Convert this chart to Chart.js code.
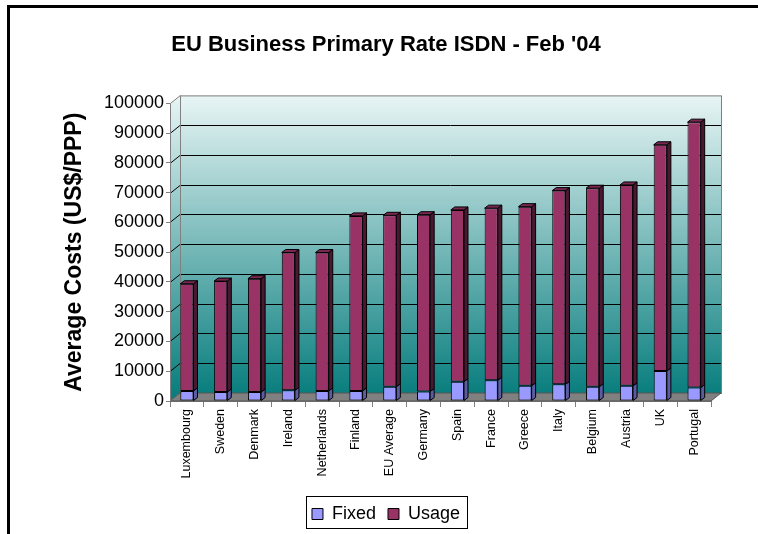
<!DOCTYPE html>
<html>
<head>
<meta charset="utf-8">
<script src="https://cdn.jsdelivr.net/npm/chart.js@4.4.0/dist/chart.umd.min.js"></script>
<style>
  html, body { margin: 0; padding: 0; background: #fff; }
</style>
</head>
<body>
<canvas id="isdnChart" width="758" height="534"></canvas>
<script>
const countries = ['Luxembourg', 'Sweden', 'Denmark', 'Ireland', 'Netherlands', 'Finland', 'EU Average',
  'Germany', 'Spain', 'France', 'Greece', 'Italy', 'Belgium', 'Austria', 'UK', 'Portugal'];
// values (US$/PPP)
const fixedCosts = [3400, 3000, 3000, 3600, 3400, 3400, 4800, 3200, 6500, 7000, 5100, 5600, 4800, 5100, 10100, 4500];
const usageCosts = [36000, 37300, 38100, 46300, 46500, 58800, 57600, 59400, 57700, 57800, 60200, 65100, 66700, 67500, 76000, 89200];
const yTicks = [0, 10000, 20000, 30000, 40000, 50000, 60000, 70000, 80000, 90000, 100000];

const FONT = '"Liberation Sans", Arial, sans-serif';
const DX = 10, DY = 8;   // depth of back wall
const BDX = 4, BDY = 3;  // depth of each column

function poly(ctx, pts) {
  ctx.beginPath();
  ctx.moveTo(pts[0][0], pts[0][1]);
  for (let i = 1; i < pts.length; i++) ctx.lineTo(pts[i][0], pts[i][1]);
  ctx.closePath();
}

// walls, floor and gridlines behind the columns
const wallPlugin = {
  id: 'wall3d',
  beforeDatasetsDraw(chart) {
    const { ctx, chartArea: a, scales: { y } } = chart;
    const grad = ctx.createLinearGradient(0, a.top - DY, 0, a.bottom - DY);
    grad.addColorStop(0, '#e8f5f5');
    grad.addColorStop(1, '#0a7e7e');
    ctx.save();
    ctx.fillStyle = grad;
    poly(ctx, [[a.left, a.top], [a.left + DX, a.top - DY], [a.left + DX, a.bottom - DY], [a.left, a.bottom]]);
    ctx.fill();
    ctx.fillRect(a.left + DX, a.top - DY, a.right - a.left, a.bottom - a.top);

    ctx.lineWidth = 1;
    ctx.strokeStyle = '#000';
    yTicks.slice(1, -1).forEach(v => {
      const py = Math.round(y.getPixelForValue(v)) + 0.5;
      ctx.beginPath();
      ctx.moveTo(a.left, py);
      ctx.lineTo(a.left + DX, py - DY);
      ctx.lineTo(a.right + DX, py - DY);
      ctx.stroke();
    });

    // wall outlines
    ctx.strokeStyle = '#808080';
    ctx.strokeRect(a.left + DX + 0.5, a.top - DY + 0.5, a.right - a.left, a.bottom - a.top);
    ctx.beginPath();
    ctx.moveTo(a.left + 0.5, a.top);
    ctx.lineTo(a.left + DX + 0.5, a.top - DY);
    ctx.stroke();

    // floor
    ctx.fillStyle = '#808080';
    poly(ctx, [[a.left, a.bottom], [a.right, a.bottom], [a.right + DX, a.bottom - DY], [a.left + DX, a.bottom - DY]]);
    ctx.fill();
    ctx.strokeStyle = '#555';
    ctx.stroke();

    // front axis line again on top of the side wall
    ctx.strokeStyle = '#808080';
    ctx.beginPath();
    ctx.moveTo(a.left + 0.5, a.top);
    ctx.lineTo(a.left + 0.5, a.bottom);
    ctx.stroke();
    ctx.restore();
  },
  afterDatasetsDraw(chart) {
    const ctx = chart.ctx;
    const sides = ['#5c5ca3', '#4a1830'];
    const tops = ['#b0b0ff', '#7a2752'];
    const last = chart.data.datasets.length - 1;
    ctx.save();
    ctx.lineWidth = 1;
    ctx.strokeStyle = '#000';
    chart.data.datasets.forEach((ds, i) => {
      chart.getDatasetMeta(i).data.forEach(bar => {
        const { x, y, base, width } = bar.getProps(['x', 'y', 'base', 'width'], true);
        const l = x - width / 2, r = x + width / 2;
        ctx.fillStyle = sides[i];
        poly(ctx, [[r, y], [r + BDX, y - BDY], [r + BDX, base - BDY], [r, base]]);
        ctx.fill();
        ctx.stroke();
        if (i === last) {
          ctx.fillStyle = tops[i];
          poly(ctx, [[l, y], [l + BDX, y - BDY], [r + BDX, y - BDY], [r, y]]);
          ctx.fill();
          ctx.stroke();
        }
      });
    });
    ctx.restore();
  },
  afterDraw(chart) {
    const ctx = chart.ctx;
    ctx.save();
    // legend frame
    const boxes = chart.legend.legendHitBoxes;
    if (boxes && boxes.length) {
      const left = Math.min(...boxes.map(b => b.left)) - 6;
      const right = Math.max(...boxes.map(b => b.left + b.width)) + 7;
      const top = Math.min(...boxes.map(b => b.top)) - 9;
      const bottom = Math.max(...boxes.map(b => b.top + b.height)) + 5;
      ctx.strokeStyle = '#000';
      ctx.lineWidth = 1;
      ctx.strokeRect(Math.round(left) + 0.5, Math.round(top) + 0.5, Math.round(right - left), Math.round(bottom - top));
    }
    // outer frame (top and left only)
    ctx.fillStyle = '#000';
    ctx.fillRect(7, 5, 751, 3);
    ctx.fillRect(7, 5, 3, 529);
    ctx.restore();
  }
};

new Chart(document.getElementById('isdnChart'), {
  type: 'bar',
  data: {
    labels: countries,
    datasets: [
      { label: 'Fixed', data: fixedCosts, backgroundColor: '#9999ff', borderColor: '#000', borderWidth: 1, borderSkipped: false },
      { label: 'Usage', data: usageCosts, backgroundColor: '#993366', borderColor: '#000', borderWidth: 1, borderSkipped: false }
    ]
  },
  plugins: [wallPlugin],
  options: {
    responsive: false,
    animation: false,
    devicePixelRatio: 1,
    categoryPercentage: 1,
    barPercentage: 0.39,
    layout: { padding: { left: 61, right: 47, top: 0, bottom: 1 } },
    plugins: {
      title: {
        display: true,
        text: "EU Business Primary Rate ISDN - Feb '04",
        color: '#000',
        font: { family: FONT, size: 22, weight: 'bold' },
        padding: { top: 32, bottom: 45 }
      },
      legend: {
        position: 'bottom',
        labels: {
          color: '#000',
          font: { family: FONT, size: 18 },
          boxWidth: 11,
          boxHeight: 11,
          padding: 12
        }
      },
      tooltip: { enabled: false }
    },
    scales: {
      x: {
        stacked: true,
        grid: { drawOnChartArea: false, tickLength: 6, color: '#808080' },
        border: { display: true, color: '#808080' },
        ticks: { color: '#000', font: { family: FONT, size: 12.5 }, minRotation: 90, maxRotation: 90, padding: 2, autoSkip: false },
        afterFit(scale) { scale.height = 92; }
      },
      y: {
        stacked: true,
        min: 0,
        max: 100000,
        afterBuildTicks(scale) { scale.ticks = yTicks.map(v => ({ value: v })); },
        grid: { drawOnChartArea: false, tickLength: 4, color: '#808080' },
        border: { display: true, color: '#808080' },
        ticks: { color: '#000', font: { family: FONT, size: 18 }, padding: 2, callback: v => String(v) },
        title: {
          display: true,
          text: 'Average Costs (US$/PPP)',
          color: '#000',
          font: { family: FONT, size: 23, weight: 'bold' },
          padding: { top: 0, bottom: 0 }
        },
        afterFit(scale) { scale.width = 109; }
      }
    }
  }
});
</script>
</body>
</html>
